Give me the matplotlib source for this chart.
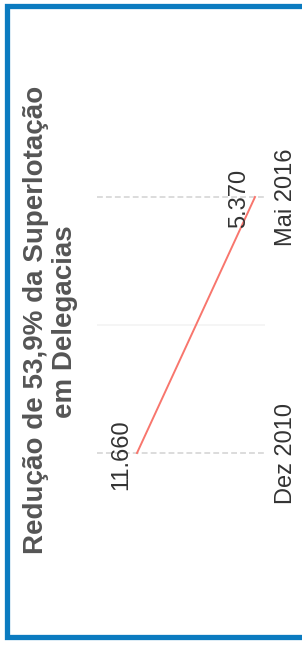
import matplotlib.pyplot as plt
from matplotlib.lines import Line2D

# data
periodos = ['Dez 2010', 'Mai 2016']
presos = [11660, 5370]
rotulos = ['11.660', '5.370']
titulo = ['Redução de 53,9% da Superlotação', 'em Delegacias']

plt.rcParams['font.family'] = ['Liberation Sans', 'DejaVu Sans']

W, H = 302, 652
fig = plt.figure(figsize=(W / 100, H / 100), dpi=100)

def px(x, y):
    # pixel (from top-left) -> figure fraction
    return x / W, 1 - y / H

# panel: value axis runs horizontally (inverted), time runs upward
ax = fig.add_axes([97 / W, 1 - 606.6 / H, (265 - 97) / W, (606.6 - 43.4) / H])
ax.set_xlim(13792, 4837)
ax.set_ylim(-0.6, 1.6)
ax.axis('off')

ypos = list(range(len(periodos)))
for y in ypos:
    ax.axhline(y, color='#dcdcdc', lw=1.4, ls=(0, (3, 1.6)), zorder=1)
ax.axhline(0.5, color='#f3f3f3', lw=1.2, zorder=1)

ax.plot(presos, ypos, color='#F8766D', lw=1.4, zorder=3)

for v, y, r in zip(presos, ypos, rotulos):
    ax.annotate(r, (v, y), xytext=(-7.2, -1.2), textcoords='offset points',
                rotation=90, rotation_mode='anchor', ha='center', va='baseline',
                fontsize=17, color='#333333')

for y, p in zip(ypos, periodos):
    ax.annotate(p, (1, y), xycoords=('axes fraction', 'data'), xytext=(19.4, 0),
                textcoords='offset points', rotation=90, rotation_mode='anchor',
                ha='center', va='baseline', fontsize=17, color='#333333')

for (bx, cy), linha in zip([(43, 320), (72, 322)], titulo):
    fig.text(*px(bx, cy), linha, rotation=90, rotation_mode='anchor',
             ha='center', va='baseline', fontsize=20, fontweight='bold',
             color='#555555')

# blue frame (open on the right)
frame = '#0b7bc0'
xs, ys = zip(px(302, 5.5), px(6.5, 5.5), px(6.5, 636.5), px(302, 636.5))
fig.add_artist(Line2D(xs, ys, color=frame, lw=3.8, solid_joinstyle='miter'))

fig.savefig('out.png', dpi=100)
